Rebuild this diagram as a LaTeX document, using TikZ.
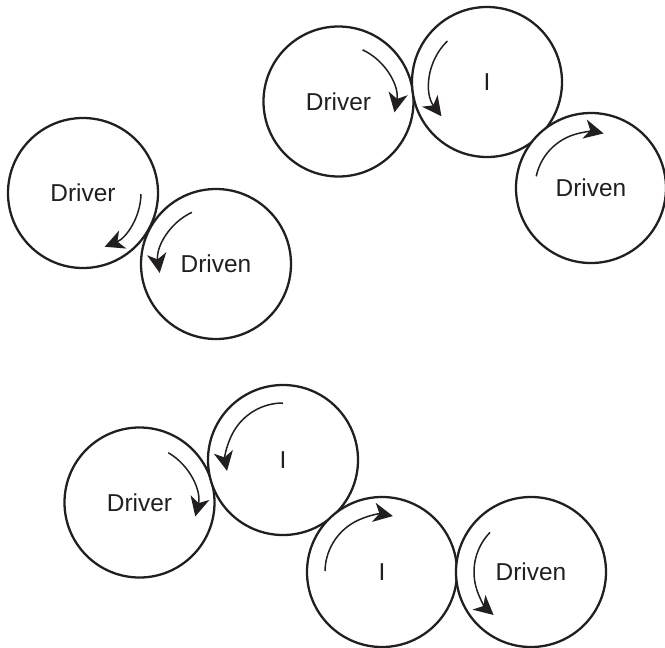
\documentclass[tikz,border=0pt]{standalone}
\usepackage{fontspec}
\setsansfont{Liberation Sans}
\usepackage{tikz}
\usetikzlibrary{arrows.meta}
\definecolor{gearink}{HTML}{231F20}

\begin{document}
\begin{tikzpicture}[
      every node/.style={font=\sffamily\fontsize{13.9}{16}\selectfont, text=gearink, align=center},
      gear/.style={circle, draw=gearink, line width=1.3pt, minimum size=3cm, inner sep=0pt, fill=white},
      turn/.style={-{Stealth[length=11pt, width=11pt, inset=3.2pt]}, draw=gearink, line width=0.85pt}
    ]
    \useasboundingbox (0,0) rectangle (13.3,-12.96);

    % driver -> idler -> driven (top right)
    \node[gear] (drvA) at (6.77,-2.03) {Driver};
    \node[gear] (idlA) at (9.74,-1.64) {I};
    \node[gear] (dvnA) at (11.82,-3.76) {Driven};

    % driver -> driven (left)
    \node[gear] (drvB) at (1.66,-3.86) {Driver};
    \node[gear] (dvnB) at (4.32,-5.28) {Driven};

    % driver -> two idlers -> driven (bottom)
    \node[gear] (drvC) at (2.79,-10.05) {Driver};
    \node[gear] (idlC) at (5.66,-9.20) {I};
    \node[gear] (idlD) at (7.64,-11.44) {I};
    \node[gear] (dvnC) at (10.62,-11.44) {Driven};

    % sense of rotation
    \draw[turn] (drvA.center) ++(65:1.14) arc[start angle=65, end angle=-11, radius=1.14];
    \draw[turn] (idlA.center) ++(134:1.14) arc[start angle=134, end angle=217, radius=1.14];
    \draw[turn] (dvnA.center) ++(168:1.12) arc[start angle=168, end angle=77, radius=1.12];

    \draw[turn] (drvB.center) ++(-1:1.16) arc[start angle=-1, end angle=-68, radius=1.16];
    \draw[turn] (dvnB.center) ++(115:1.14) arc[start angle=115, end angle=189, radius=1.14];

    \draw[turn] (drvC.center) ++(60:1.15) arc[start angle=60, end angle=-14, radius=1.15];
    \draw[turn] (idlC.center) ++(90:1.14) arc[start angle=90, end angle=191, radius=1.14];
    \draw[turn] (idlD.center) ++(179:1.14) arc[start angle=179, end angle=79, radius=1.14];
    \draw[turn] (dvnC.center) ++(136:1.14) arc[start angle=136, end angle=229, radius=1.14];
  \end{tikzpicture}
\end{document}
